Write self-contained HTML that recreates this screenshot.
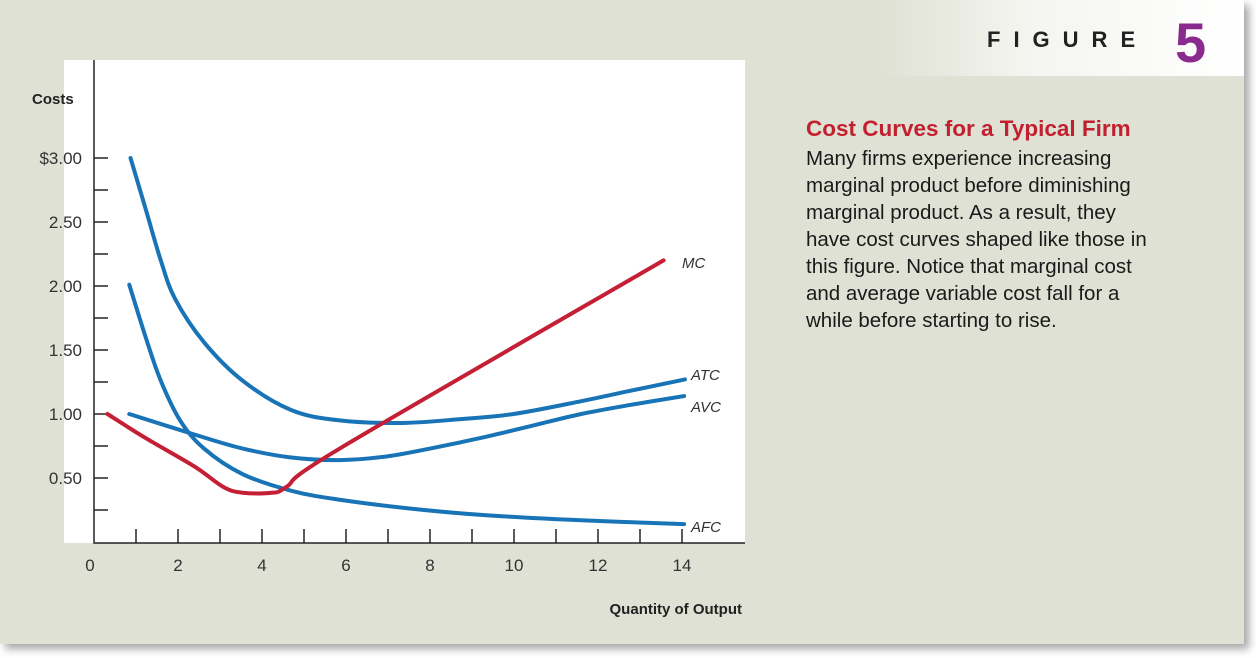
<!DOCTYPE html>
<html><head><meta charset="utf-8"><style>
body{margin:0;width:1256px;height:658px;background:#fff;position:relative;overflow:hidden;font-family:"Liberation Sans",sans-serif}
#card{position:absolute;left:0;top:0;width:1244px;height:644px;background:#dee1d4;box-shadow:5px 5px 8px rgba(0,0,0,.35)}
#band{position:absolute;left:880px;top:0;width:364px;height:76px;background:linear-gradient(90deg,#dee1d4,#f4f5f0 40%,#fff)}
#fig{position:absolute;left:987px;top:27px;font-size:22px;letter-spacing:13px;color:#222;font-weight:bold}
#five{position:absolute;left:1175px;top:10px;font-size:56px;font-weight:bold;color:#8a2a8e}
#title{position:absolute;left:806px;top:116px;font-size:22.5px;font-weight:bold;color:#c3202f}
#body{position:absolute;left:806px;top:145px;width:420px;font-size:20.5px;line-height:27px;color:#1a1a1a}
</style></head><body>
<div id="card"></div>
<div id="band"></div>
<div id="fig">FIGURE</div>
<div id="five">5</div>
<div id="title">Cost Curves for a Typical Firm</div>
<div id="body">Many firms experience increasing<br>marginal product before diminishing<br>marginal product. As a result, they<br>have cost curves shaped like those in<br>this figure. Notice that marginal cost<br>and average variable cost fall for a<br>while before starting to rise.</div>
<svg id="chart" width="1256" height="658" style="position:absolute;left:0;top:0"></svg>
<script>
const xTicks=[0,2,4,6,8,10,12,14];
const yTicks=[0.5,1,1.5,2,2.5,3];
const yTickLabels=["0.50","1.00","1.50","2.00","2.50","$3.00"];
const atcX=[0.87,1.24,1.59,1.93,2.62,3.54,4.7,5.85,7.34,8.72,9.99,11.6,12.75,14.07];
const atcY=[3.0,2.59,2.2,1.9,1.56,1.26,1.03,0.95,0.93,0.96,1.0,1.1,1.18,1.27];
const avcX=[0.84,2.39,3.54,4.7,5.85,7.0,8.15,9.3,10.45,11.6,12.75,14.05];
const avcY=[1.0,0.84,0.73,0.66,0.64,0.67,0.74,0.82,0.91,1.0,1.07,1.14];
const afcX=[0.84,1.24,1.59,2.05,2.62,3.54,4.7,5.85,7.57,9.3,11.6,14.05];
const afcY=[2.01,1.59,1.26,0.95,0.73,0.53,0.40,0.33,0.26,0.21,0.17,0.14];
const mcX=[0.32,1.24,2.39,3.08,3.54,4.23,4.58,5.85,13.56];
const mcY=[1.0,0.81,0.59,0.43,0.385,0.385,0.43,0.73,2.2];
const sx=v=>94+v*42, sy=v=>542-v*128;
const svg=document.getElementById('chart'),NS='http://www.w3.org/2000/svg';
function mk(t,a,txt){const e=document.createElementNS(NS,t);for(const k in a)e.setAttribute(k,a[k]);if(txt!=null)e.textContent=txt;svg.appendChild(e);return e;}
let e=mk('rect',{x:64,y:60,width:681,height:483,fill:'#fff'});


e=mk('path',{d:'M94 60V543H745',stroke:'#222','stroke-width':1.5,fill:'none'});


for(let v=0.25;v<=3.01;v+=0.25){e=mk('line',{x1:94,x2:108,y1:sy(v),y2:sy(v),stroke:'#222','stroke-width':1.5});

}
for(let v=1;v<=14;v++){e=mk('line',{x1:sx(v),x2:sx(v),y1:529,y2:543,stroke:'#222','stroke-width':1.5});

}
yTicks.forEach((v,i)=>{e=mk('text',{x:82,y:sy(v)+6,'text-anchor':'end','font-size':17,fill:'#333'},yTickLabels[i]);

});
xTicks.forEach(v=>{e=mk('text',{x:sx(v)-(v==0?4:0),y:571,'text-anchor':'middle','font-size':17,fill:'#333'},String(v));

});
e=mk('text',{x:32,y:104,'font-size':15,'font-weight':'bold',fill:'#222'},'Costs');


e=mk('text',{x:742,y:614,'text-anchor':'end','font-size':15,'font-weight':'bold',fill:'#222'},'Quantity of Output');


function curve(X,Y){let d='M'+sx(X[0])+' '+sy(Y[0]);const P=X.map((x,i)=>[sx(x),sy(Y[i])]);
for(let i=0;i<P.length-1;i++){const p0=P[i-1]||P[i],p1=P[i],p2=P[i+1],p3=P[i+2]||p2;
d+=` C${p1[0]+(p2[0]-p0[0])/6} ${p1[1]+(p2[1]-p0[1])/6} ${p2[0]-(p3[0]-p1[0])/6} ${p2[1]-(p3[1]-p1[1])/6} ${p2[0]} ${p2[1]}`;}return d;}
const series=[['afc-curve',afcX,afcY,'#1874b6'],['avc-curve',avcX,avcY,'#1874b6'],['atc-curve',atcX,atcY,'#1874b6'],['mc-curve',mcX,mcY,'#c41f35']];
series.forEach(s=>{e=mk('path',{d:curve(s[1],s[2]),stroke:s[3],'stroke-width':4,fill:'none','stroke-linecap':'round'});

});
const labs=[['MC',682,268],['ATC',691,380],['AVC',691,412],['AFC',691,532]];
labs.forEach(l=>{e=mk('text',{x:l[1],y:l[2],'font-size':15,'font-style':'italic',fill:'#333'},l[0]);

});
</script>
</body></html>
